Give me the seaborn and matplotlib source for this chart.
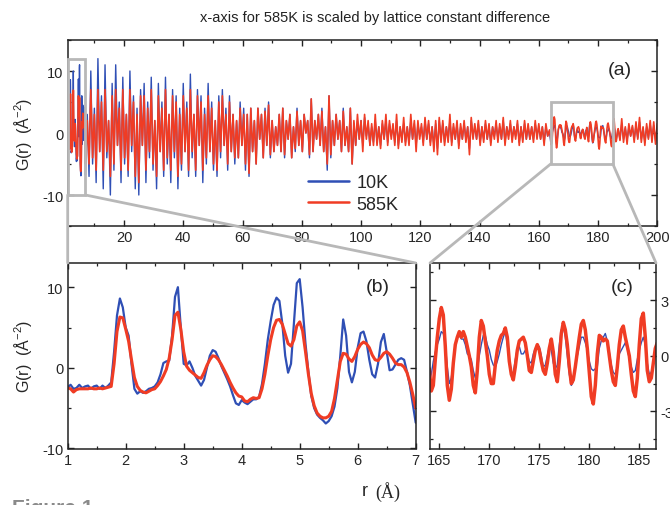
import numpy as np
import matplotlib
matplotlib.use("Agg")
import matplotlib.pyplot as plt
import seaborn as sns
from matplotlib.patches import Rectangle, ConnectionPatch
from matplotlib.ticker import MultipleLocator

# estilo
sns.set_theme(style="ticks")
plt.rcParams['font.family'] = ['Liberation Sans', 'DejaVu Sans']
plt.rcParams['axes.unicode_minus'] = False
plt.rcParams['mathtext.default'] = 'regular'

BLUE = '#2f4fb5'
RED = '#f03c24'
GRAY = '#b8b8b8'

# ==========================================
# Datos
# ==========================================
# r = 1.00 .. 7.00 (paso 0.05)  -> panel (b)
g10_low = [
    -2.4, -2.1, -2.6, -2.5, -2.1, -2.5, -2.3, -2.2, -2.6, -2.3,
    -2.2, -2.6, -2.2, -2.5, -2.2, -1.8, 2.0, 6.5, 8.6, 7.5,
    5.0, 4.0, 0.5, -2.6, -3.2, -2.9, -3.1, -2.9, -2.6, -2.5,
    -2.3, -1.8, -0.8, 0.6, 0.8, 0.9, 4.0, 8.8, 10.0, 5.0,
    0.5, 0.3, 0.8, 0.0, -1.0, -1.6, -2.2, -1.5, 0.0, 1.5,
    2.2, 2.0, 1.2, 0.2, -0.6, -1.4, -2.3, -3.4, -4.4, -4.6,
    -4.0, -4.3, -4.5, -4.2, -3.9, -3.9, -3.6, -2.0, 0.5, 3.5,
    5.8, 7.8, 8.7, 8.3, 5.5, 1.5, -0.6, 0.5, 5.5, 10.5,
    11.0, 7.5, 3.0, -0.5, -3.5, -5.0, -5.8, -6.2, -6.5, -6.9,
    -6.6, -6.0, -4.8, -2.5, 1.5, 6.0, 4.0, -0.5, -1.8, -0.5,
    2.5, 4.3, 4.5, 3.3, 1.0, -0.8, -1.2, 0.5, 3.2, 4.2,
    2.0, -0.3, -0.2, 0.4, 1.0, 1.2, 1.0, -0.5, -2.2, -4.5,
    -6.8,
]
g585_low = [
    -2.5, -2.6, -3.0, -2.7, -2.6, -2.6, -2.6, -2.6, -2.5, -2.6,
    -2.6, -2.5, -2.6, -2.5, -2.4, -2.3, 0.5, 4.5, 6.3, 6.2,
    4.8, 3.3, 1.0, -1.2, -2.3, -2.8, -3.0, -3.1, -2.9, -2.7,
    -2.6, -2.2, -1.7, -1.0, -0.2, 1.2, 3.5, 6.5, 6.9, 4.8,
    2.0, 0.2, -0.3, -0.6, -0.9, -1.2, -1.3, -0.6, 0.3, 1.0,
    1.5, 1.4, 1.0, 0.4, -0.3, -1.0, -1.8, -2.5, -3.1, -3.5,
    -3.6, -4.1, -4.2, -3.9, -3.7, -3.8, -3.7, -2.6, -0.8, 1.5,
    3.5, 5.0, 5.9, 6.0, 5.4, 4.2, 3.0, 2.7, 3.5, 5.2,
    5.7, 4.6, 2.0, -0.8, -3.2, -4.7, -5.6, -6.0, -6.2, -6.2,
    -6.0, -5.4, -3.8, -1.5, 0.8, 1.8, 1.7, 1.1, 0.8, 1.4,
    2.3, 2.9, 3.2, 3.0, 2.5, 1.6, 1.0, 0.9, 1.3, 1.8,
    2.0, 1.7, 1.2, 0.6, 0.4, 0.4, 0.1, -0.6, -1.8, -3.3,
    -5.0,
]

# r = 7.6 .. 163.6 (paso 0.6)  -> solo panel (a)
g10_mid = [
    3, -7, 10, -5, 4, -8, 12, -3, 6, -9,
    11, -4, 2, -10, 8, -6, 11, -2, 5, -8,
    9, -5, 3, -7, 10, -3, 6, -9, 4, -10,
    7, -2, 8, -8, 5, -4, 9, -6, 2, -9,
    8, -3, 5, -7, 9, -5, 3, -8, 7, -4,
    6, -9, 4, -6, 8, -3, 5, -7, 9.5, -4,
    3, -7, 7, -2, 6, -8, 4, -5, 8, -3,
    5, -6, 2, -7, 6, -4, 7, -2, 4, -6,
    6, -3, 3, -5, 2, -4, 5, -2, 4, -6,
    3, -7, 4, -3, 2, -5, 4, -1, 3, -4,
    4, -2, 5, -4, 2, -3, 1, -2, 3, -3,
    4, -4, 2, -1, 3, -4, 1, -3, 4, -2,
    2, -3, 3, 0, 2, -4, 5.5, -3, 2, -1,
    3, -2, 4, -3, 1, -6, 6, -4, 2, -2,
    3, -1, 2, -3, 4, -2, 1, -3, 4, -5,
    1.5, -2, 2, -1, 2, -2, 2.5, -0.5, 1.5, -2,
    1, -1.5, 2, -1.5, 1, -2, 1.5, -1, 2, -1.5,
    1.5, -0.5, 1, -1.5, 2, -2, 1, -1, 1.5, -1.5,
    1, -1.5, 2, -1, 1.5, -2, 1.5, -0.5, 1, -1.5,
    2, -1, 1.5, -1.5, 1, -2, 1.5, -2.5, 2, -1,
    1.5, -1.5, 1, -1, 2, -1.5, 1, -1, 1.5, -2,
    1, -1, 1.5, -1, 1, -2.5, 2, -0.5, 1, -1,
    1.5, -1.5, 1, -1, 1.5, -1, 1, -1.5, 1, -0.5,
    1.5, -1, 1, -1, 2, -1.5, 1, -0.5, 1.5, -1,
    1, -0.5, 1.5, -1.5, 1, -1, 1.5, -1, 1, -1,
    1, -1, 1.5, -0.5, 1, -1, 1, -1.5, 1, -0.5,
    0.3,
]
g585_mid = [
    2, -5, 7, -4, 3, -6, 7, -3, 5, -6,
    7, -3, 2, -7, 6, -5, 7, -2, 4, -6,
    7, -4, 3, -6, 7, -2, 5, -7, 3, -8,
    6, -2, 6, -6, 4, -3, 7, -5, 2, -7,
    6, -3, 4, -6, 7, -4, 3, -6, 6, -3,
    5, -7, 3, -5, 6, -3, 4, -6, 7, -3,
    3, -6, 6, -2, 5, -6, 3, -4, 6, -3,
    4, -5, 2, -6, 5, -3, 6, -2, 3, -5,
    5, -3, 3, -4, 2, -4, 4, -2, 3, -5,
    3, -6.5, 4, -3, 2, -5, 4, -1, 3, -4,
    3.5, -2, 4.5, -3.5, 2, -3, 1, -2, 3, -3,
    4, -3.5, 2, -1, 3, -4, 1, -2.5, 3.5, -2,
    2, -3, 3, 0, 2, -3.5, 5.5, -3, 2, -1,
    3, -2, 3.5, -3, 1, -5, 6, -3.5, 2, -2,
    3, -1, 2, -3, 3.5, -2, 1, -3, 4, -5,
    2, -2, 3, -1, 2, -3, 3, -1, 2, -2,
    1.5, -2, 3, -2, 1, -2.5, 2, -1, 3, -2,
    2, -1, 1.5, -2, 3, -2.5, 1, -1.5, 2.5, -2,
    1, -2, 3, -1, 2, -3, 2, -1, 1.5, -2,
    2.5, -1, 2, -2, 1, -3, 2, -3.5, 2.5, -1.5,
    2, -2, 1, -1.5, 3, -2, 1.5, -1, 2, -2.5,
    1.5, -1, 2, -1.5, 1, -3.5, 2.5, -1, 1.5, -1,
    2, -2, 1, -1.5, 2, -1, 1.5, -2, 1, -1,
    2, -1.5, 1.5, -1, 2.5, -2, 1, -1, 2, -1.5,
    1, -1, 2, -2, 1, -1.5, 2, -1, 1.5, -1,
    1, -1.5, 2, -1, 1.5, -1, 1, -2, 1.5, -0.5,
    0.5,
]

# r = 164.0 .. 186.8 (paso 0.2)  -> panel (c)
g10_zoom = [
    -1.4, -1.0, -0.3, 0.2, 0.6, 0.9, 1.3, 1.2, 0.6, -0.6,
    -1.5, -1.2, -0.3, 0.5, 1.0, 1.1, 0.9, 0.9, 0.6, 0.1,
    0.0, -0.2, -0.8, -1.2, -0.8, 0.0, 0.6, 1.1, 1.1, 0.6,
    0.3, -0.2, -0.5, -0.6, -0.3, 0.1, 0.6, 1.0, 1.3, 0.6,
    -0.3, -1.0, -0.9, -0.2, 0.4, 0.5, 0.1, 0.1, 0.3, 0.1,
    -0.3, -0.4, 0.1, 0.4, 0.5, 0.5, 0.0, -0.6, -0.5, 0.0,
    0.5, 0.3, -0.4, -0.7, -0.5, 0.6, 1.4, 1.6, 1.0, 0.0,
    -1.0, -1.6, -1.4, -0.5, 0.0, 0.5, 1.0, 1.0, 0.7, 0.3,
    -0.3, -0.7, -0.8, -0.7, -0.6, 0.4, 0.8, 1.0, 1.2, 0.8,
    0.2, -0.5, -0.9, -1.0, -0.6, 0.1, 0.3, 0.5, 0.7, 0.4,
    -0.2, -0.6, -0.9, -0.8, -0.2, 0.3, 0.7, 1.0, 0.6, -0.4,
    -1.0, -0.9, -0.4, 0.2, 0.6,
]
g585_zoom = [
    -0.7, -1.9, -1.6, -0.2, 1.0, 2.0, 2.6, 2.2, 0.5, -1.6,
    -2.4, -1.8, -0.4, 0.6, 1.0, 1.3, 1.0, 1.3, 1.0, 0.5,
    0.0, -0.6, -1.6, -2.0, -0.8, 1.0, 1.9, 1.6, 0.8, 0.0,
    -1.0, -1.5, -1.5, -0.5, 0.3, 0.8, 1.1, 1.2, 1.5, 1.0,
    -0.3, -1.0, -1.3, -0.6, 0.3, 0.8, 0.9, 1.0, 0.7, 0.0,
    -0.8, -0.9, -0.3, 0.3, 0.6, 0.3, -0.3, -0.8, -1.0, -0.4,
    0.4, 0.9, 0.2, -1.0, -1.4, -0.3, 1.2, 1.8, 1.4, 0.6,
    -0.6, -1.5, -1.3, -0.6, 0.2, 1.0, 1.7, 1.9, 1.4, 0.4,
    -0.9, -2.2, -2.6, -1.6, 0.1, 1.1, 1.0, 0.8, 0.9, 0.8,
    0.0, -0.8, -1.4, -1.6, -0.6, 0.6, 1.4, 1.6, 1.0, 0.5,
    0.0, -1.0, -1.9, -2.2, -1.2, 0.6, 2.0, 2.3, 1.0, -0.8,
    -1.4, -1.2, -0.4, 0.4, 0.7,
]

# r = 187.4 .. 200.0 (paso 0.6)  -> solo panel (a)
g10_tail = [-1, 1.5, -1, 0.8, -1.2, 1, -0.5, 1, -1, 1.2, -0.8,
            1.8, -1, 0.8, -1.5, 1, -0.8, 1.5, -1, 1.2, -1.2, 1]
g585_tail = [-1.2, 2.3, -1.5, 1, -1.8, 1.5, -0.5, 1.2, -1.5, 1.8, -1,
             2.5, -1.5, 1, -2, 1.5, -1, 2, -1.5, 1.8, -1.8, 1.5]


def grid(start, step, values):
    return start + step * np.arange(len(values))


r_low10, r_low585 = grid(1.0, 0.05, g10_low), grid(1.0, 0.05, g585_low)
r_mid10, r_mid585 = grid(7.6, 0.6, g10_mid), grid(7.6, 0.6, g585_mid)
r_zoom10, r_zoom585 = grid(164.0, 0.2, g10_zoom), grid(164.0, 0.2, g585_zoom)
r_tail10, r_tail585 = grid(187.4, 0.6, g10_tail), grid(187.4, 0.6, g585_tail)

r_all10 = np.concatenate([r_low10, r_mid10, r_zoom10, r_tail10])
g_all10 = np.concatenate([g10_low, g10_mid, g10_zoom, g10_tail])
r_all585 = np.concatenate([r_low585, r_mid585, r_zoom585, r_tail585])
g_all585 = np.concatenate([g585_low, g585_mid, g585_zoom, g585_tail])

# ==========================================
# Figura
# ==========================================
W, H = 670, 506
fig = plt.figure(figsize=(W / 100, H / 100), dpi=100)


def px_axes(left, top, right, bottom):
    return fig.add_axes([left / W, 1 - bottom / H, (right - left) / W, (bottom - top) / H])


ax_a = px_axes(67.7, 41, 657.3, 227)
ax_b = px_axes(67.7, 264, 415.7, 449.5)
ax_c = px_axes(430, 264, 656, 449.5)

# panel (a)
sns.lineplot(x=r_all10, y=g_all10, ax=ax_a, color=BLUE, linewidth=1.0, label='10K', estimator=None, sort=False)
sns.lineplot(x=r_all585, y=g_all585, ax=ax_a, color=RED, linewidth=1.2, label='585K', estimator=None, sort=False)
ax_a.set_xlim(1, 200)
ax_a.set_ylim(-15, 15)
ax_a.xaxis.set_major_locator(MultipleLocator(20))
ax_a.xaxis.set_minor_locator(MultipleLocator(10))
ax_a.yaxis.set_major_locator(MultipleLocator(10))
ax_a.yaxis.set_minor_locator(MultipleLocator(5))
leg = ax_a.legend(loc='center left', bbox_to_anchor=(0.407, 0.176), frameon=False, fontsize=13,
                  handlelength=2.3, handletextpad=0.4, labelspacing=0.25, borderpad=0, borderaxespad=0)
for h in leg.get_lines():
    h.set_linewidth(1.8)

# panel (b)
sns.lineplot(x=r_low10, y=g10_low, ax=ax_b, color=BLUE, linewidth=1.6, legend=False, estimator=None, sort=False)
sns.lineplot(x=r_low585, y=g585_low, ax=ax_b, color=RED, linewidth=2.2, legend=False, estimator=None, sort=False)
ax_b.set_xlim(1, 7)
ax_b.set_ylim(-10, 13)
ax_b.xaxis.set_major_locator(MultipleLocator(1))
ax_b.xaxis.set_minor_locator(MultipleLocator(0.5))
ax_b.yaxis.set_major_locator(MultipleLocator(10))
ax_b.yaxis.set_minor_locator(MultipleLocator(5))

# panel (c)
sns.lineplot(x=r_zoom10, y=g10_zoom, ax=ax_c, color=BLUE, linewidth=1.0, legend=False, estimator=None, sort=False)
sns.lineplot(x=r_zoom585, y=g585_zoom, ax=ax_c, color=RED, linewidth=2.5, legend=False, estimator=None, sort=False)
ax_c.set_xlim(164.07, 186.67)
ax_c.set_ylim(-5, 5)
ax_c.xaxis.set_major_locator(MultipleLocator(5))
ax_c.xaxis.set_minor_locator(MultipleLocator(2.5))
ax_c.yaxis.set_major_locator(MultipleLocator(3))
ax_c.yaxis.set_minor_locator(MultipleLocator(1.5))

for ax in (ax_a, ax_b, ax_c):
    ax.set_xlabel('')
    ax.set_ylabel('')
    for s in ax.spines.values():
        s.set_visible(True)
        s.set_color('#222222')
        s.set_linewidth(1.1)
    ax.tick_params(which='both', direction='in', top=True, right=True, left=True, bottom=True,
                   color='#222222', labelsize=10.5, pad=3)
    ax.tick_params(which='major', length=4.5, width=1.0)
    ax.tick_params(which='minor', length=2.5, width=0.9)

ax_c.tick_params(which='both', labelleft=False, labelright=True)

ylab = 'G(r)  (Å$^{-2}$)'
ax_a.set_ylabel(ylab, fontsize=11.5, labelpad=6)
ax_b.set_ylabel(ylab, fontsize=11.5, labelpad=6)

ax_a.text(0.937, 0.844, '(a)', transform=ax_a.transAxes, ha='center', va='center', fontsize=14)
ax_b.text(0.890, 0.871, '(b)', transform=ax_b.transAxes, ha='center', va='center', fontsize=14)
ax_c.text(0.850, 0.876, '(c)', transform=ax_c.transAxes, ha='center', va='center', fontsize=14)

# recuadros de zoom y lineas de conexion
ax_a.add_patch(Rectangle((1, -10), 6, 22, fill=False, ec=GRAY, lw=2, zorder=6, clip_on=False))
ax_a.add_patch(Rectangle((164, -5), 21, 10, fill=False, ec=GRAY, lw=2, zorder=6))
for xa, ya, axb, xb, yb in [(1, -10, ax_b, 1, 13), (7, -10, ax_b, 7, 13),
                            (164, -5, ax_c, 164.07, 5), (185, -5, ax_c, 186.67, 5)]:
    con = ConnectionPatch(xyA=(xa, ya), coordsA=ax_a.transData, xyB=(xb, yb), coordsB=axb.transData,
                          color=GRAY, lw=2, zorder=10)
    fig.add_artist(con)

# textos
fig.text(375 / W, 1 - 18 / H, 'x-axis for 585K is scaled by lattice constant difference',
         ha='center', va='center', fontsize=10.5, color='#222222')
fig.text(365 / W, 1 - 492 / H, 'r', ha='center', va='center', fontsize=13)
fig.text(388 / W, 1 - 492 / H, '(Å)', ha='center', va='center', fontsize=13,
         family=['Liberation Serif', 'DejaVu Serif'])
fig.text(12 / W, 1 - 499 / H, 'Figure 1', ha='left', va='top', fontsize=15, fontweight='bold', color='#8a8a8a')

plt.savefig('out.png', dpi=100)
